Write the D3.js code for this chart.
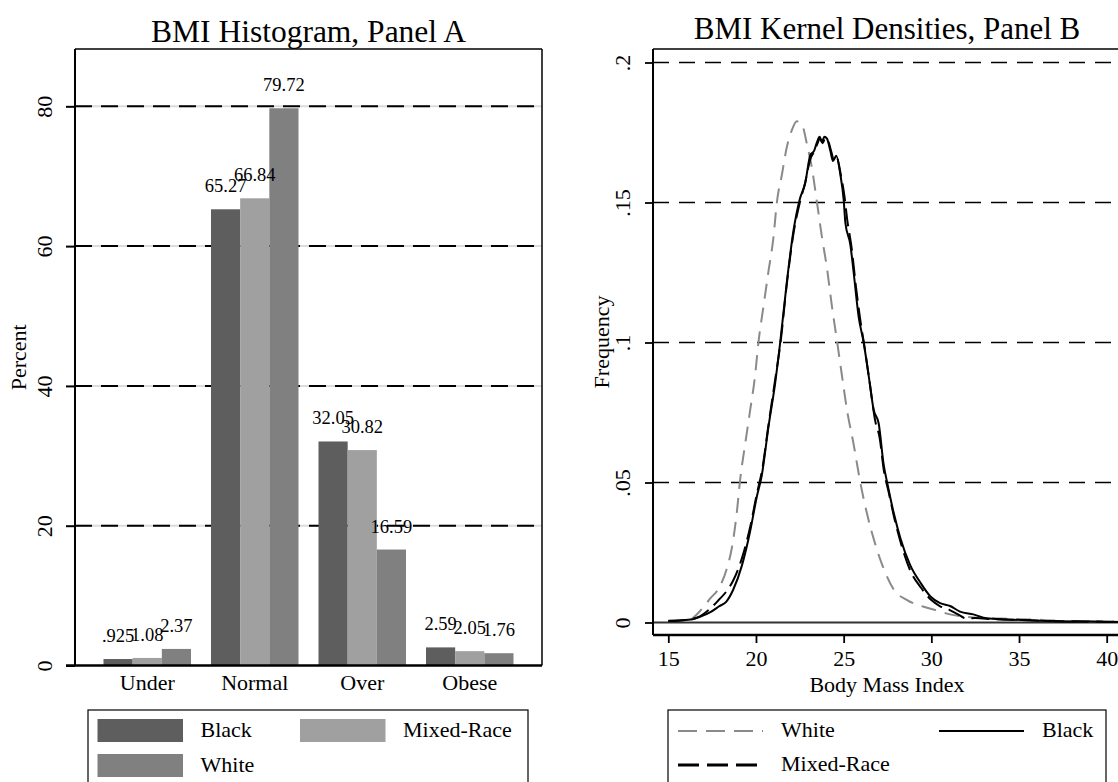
<!DOCTYPE html>
<html>
<head>
<meta charset="utf-8">
<script src="https://cdn.jsdelivr.net/npm/d3@7"></script>
<style>
  html, body { margin: 0; padding: 0; background: #fff; }
  svg { display: block; font-family: "Liberation Serif", "Times New Roman", serif; }
</style>
</head>
<body>
<svg id="chart" width="1118" height="782"></svg>
<script>
// panel A data
const categories = ['Under', 'Normal', 'Over', 'Obese'];
const groups = ['Black', 'Mixed-Race', 'White'];
const blackPct = [0.925, 65.27, 32.05, 2.59];
const mixedPct = [1.08, 66.84, 30.82, 2.05];
const whitePct = [2.37, 79.72, 16.59, 1.76];
const pctTicks = [0, 20, 40, 60, 80];

// panel B data (kernel density curves)
const whiteBmi = [16.3, 16.8, 17.38, 17.95, 18.33, 18.62, 18.9, 19.1, 19.38, 19.67, 19.95, 20.14, 20.43, 20.71, 21.0, 21.19, 21.48, 21.76, 22.05, 22.33, 22.62, 22.9, 23.19, 23.48, 23.76, 24.05, 24.33, 24.62, 24.9, 25.19, 25.57, 25.95, 26.33, 26.81, 27.29, 27.86, 28.62, 29.57, 30.33, 31, 32, 33, 34, 35, 36, 37, 38, 40, 42];
const whiteDen = [.001, .004, .0085, .013, .0191, .0265, .0389, .0512, .0636, .0759, .0883, .1, .113, .1253, .1377, .15, .16, .1698, .1759, .179, .1778, .171, .1623, .15, .1377, .1265, .113, .1006, .0883, .0759, .0636, .05, .0389, .0278, .0191, .0117, .008, .0056, .0043, .003, .002, .0016, .0014, .0012, .001, .0007, .0005, .0003, .0002];

const blackBmi = [15, 16.4, 16.8, 17.4, 17.9, 18.3, 18.7, 19.2, 19.67, 20.05, 20.33, 20.71, 21.1, 21.38, 21.76, 22.14, 22.49, 22.81, 23.1, 23.32, 23.48, 23.63, 23.76, 23.9, 24.05, 24.24, 24.39, 24.58, 24.81, 25.0, 25.1, 25.38, 25.57, 25.86, 26.14, 26.43, 26.71, 27.0, 27.29, 27.48, 27.86, 28.24, 28.8, 29.38, 29.95, 30.5, 31.07, 31.63, 32.4, 33.16, 34.3, 36.2, 38, 39, 40, 42];
const blackDen = [.0006, .0012, .002, .0037, .0058, .0074, .0117, .0204, .0327, .045, .0525, .0698, .0858, .1, .1216, .14, .151, .157, .167, .1685, .1716, .1735, .1716, .1735, .1728, .1685, .1648, .1667, .16, .151, .1426, .135, .125, .109, .1, .088, .076, .071, .056, .05, .039, .03, .0204, .0142, .0093, .0069, .0059, .0039, .0029, .0015, .0011, .0006, .0003, .0004, .0002, .0001];

const mixedBmi = [15, 16, 16.8, 17.4, 17.9, 18.3, 18.7, 19.2, 19.7, 20.05, 20.35, 20.7, 21.1, 21.4, 21.76, 22.14, 22.5, 22.8, 23.1, 23.3, 23.5, 23.65, 23.8, 23.95, 24.1, 24.3, 24.45, 24.6, 24.85, 25.05, 25.2, 25.45, 25.7, 25.95, 26.2, 26.5, 26.8, 27.05, 27.3, 27.55, 27.9, 28.3, 28.8, 29.4, 30, 30.5, 31, 31.5, 32, 32.5, 33.5, 35, 37, 39, 42];
const mixedDen = [.0005, .0009, .0022, .005, .0082, .011, .015, .023, .035, .046, .0545, .07, .087, .1, .121, .139, .15, .157, .1655, .168, .171, .1728, .1712, .173, .1722, .168, .165, .166, .1595, .152, .144, .134, .12, .108, .098, .085, .072, .066, .054, .047, .037, .0275, .0185, .0125, .008, .0058, .0046, .003, .0014, .0016, .0012, .0009, .0005, .0004, .0002];

const densTicks = [0, .05, .1, .15, .2];
const bmiTicks = [15, 20, 25, 30, 35, 40];

const barColors = ['#5e5e5e', '#a0a0a0', '#808080'];

let svg = d3.select('#chart');

function fmtLabel(v) {
    return d3.format('.4~g')(v).replace(/^0\./, '.');
}

// ---------- Panel A: bars ----------
let aLeft = 75, aRight = 542, aTop = 49, aBottom = 665.5;
let xa = d3.scaleBand().domain(categories).range([aLeft, aRight]).paddingInner(0.186).paddingOuter(0.265);
let xg = d3.scaleBand().domain(groups).range([0, xa.bandwidth()]);
let ya = d3.scaleLinear().domain([0, 88.2]).range([aBottom, aTop]);

svg.append('text')
    .attr('x', (aLeft + aRight) / 2).attr('y', 42)
    .attr('text-anchor', 'middle').attr('font-size', 31.5)
    .text('BMI Histogram, Panel A');

// grid lines: light grey under black dashes
let gridA = svg.append('g');
pctTicks.filter(d => d > 0).forEach(function(t) {
    gridA.append('line').attr('x1', aLeft).attr('x2', aRight).attr('y1', ya(t)).attr('y2', ya(t))
        .attr('stroke', '#dcdcdc').attr('stroke-width', 2);
    gridA.append('line').attr('x1', aLeft).attr('x2', aRight).attr('y1', ya(t)).attr('y2', ya(t))
        .attr('stroke', '#000').attr('stroke-width', 2).attr('stroke-dasharray', '17,9');
});

let yAxisA = d3.axisLeft(ya).tickValues(pctTicks).tickSize(9).tickFormat(d3.format('d'));
let gya = svg.append('g').attr('transform', 'translate(' + aLeft + ',0)').call(yAxisA);
gya.select('.domain').remove();
gya.selectAll('line').attr('stroke', '#000').attr('stroke-width', 2);
gya.selectAll('text')
    .attr('transform', 'rotate(-90)').attr('x', 0).attr('y', -23).attr('dy', 0)
    .attr('text-anchor', 'middle').attr('font-size', 22)
    .attr('font-family', '"Liberation Serif", "Times New Roman", serif').attr('fill', '#000');

let seriesPct = [blackPct, mixedPct, whitePct];
let bars = svg.append('g');
seriesPct.forEach(function(vals, s) {
    bars.selectAll('.bar-' + s)
        .data(vals)
        .enter()
        .append('rect')
        .attr('x', function(d, i) { return xa(categories[i]) + xg(groups[s]); })
        .attr('y', function(d) { return ya(d); })
        .attr('width', xg.bandwidth())
        .attr('height', function(d) { return ya(0) - ya(d); })
        .attr('fill', barColors[s]);
});
seriesPct.forEach(function(vals, s) {
    bars.selectAll('.lab-' + s)
        .data(vals)
        .enter()
        .append('text')
        .attr('x', function(d, i) { return xa(categories[i]) + xg(groups[s]) + xg.bandwidth() / 2; })
        .attr('y', function(d) { return ya(d) - 17; })
        .attr('text-anchor', 'middle')
        .attr('font-size', 18.5)
        .text(function(d) { return fmtLabel(d); });
});

// frame
svg.append('line').attr('x1', aLeft).attr('x2', aRight).attr('y1', aTop).attr('y2', aTop).attr('stroke', '#000').attr('stroke-width', 1.5);
svg.append('line').attr('x1', aRight).attr('x2', aRight).attr('y1', aTop).attr('y2', aBottom).attr('stroke', '#000').attr('stroke-width', 1.5);
svg.append('line').attr('x1', aLeft).attr('x2', aLeft).attr('y1', aTop).attr('y2', aBottom).attr('stroke', '#000').attr('stroke-width', 2);
svg.append('line').attr('x1', 66).attr('x2', aRight).attr('y1', aBottom).attr('y2', aBottom).attr('stroke', '#000').attr('stroke-width', 2.5);

svg.selectAll('.cat-label')
    .data(categories)
    .enter()
    .append('text')
    .attr('x', function(d) { return xa(d) + xa.bandwidth() / 2; })
    .attr('y', 690)
    .attr('text-anchor', 'middle')
    .attr('font-size', 22)
    .text(function(d) { return d; });

svg.append('text')
    .attr('transform', 'translate(26,' + ((aTop + aBottom) / 2) + ') rotate(-90)')
    .attr('text-anchor', 'middle').attr('font-size', 22)
    .text('Percent');

// legend A
svg.append('rect').attr('x', 88).attr('y', 710).attr('width', 440).attr('height', 90)
    .attr('fill', 'none').attr('stroke', '#000').attr('stroke-width', 1.2);
let legA = [
    {name: groups[0], col: barColors[0], x: 97.5, y: 719},
    {name: groups[1], col: barColors[1], x: 300, y: 719},
    {name: groups[2], col: barColors[2], x: 97.5, y: 754}
];
legA.forEach(function(d) {
    svg.append('rect').attr('x', d.x).attr('y', d.y).attr('width', 85.5).attr('height', 23).attr('fill', d.col);
    svg.append('text').attr('x', d.x + 103).attr('y', d.y + 18).attr('font-size', 22).text(d.name);
});

// ---------- Panel B: densities ----------
let bLeft = 653, bRight = 1121, bTop = 49, bBottom = 635;
let xb = d3.scaleLinear().domain([15, 40]).range([668.3, 1106.7]);
let yb = d3.scaleLinear().domain([0, .2]).range([622.5, 62.5]);

svg.append('text')
    .attr('x', (bLeft + bRight) / 2).attr('y', 39)
    .attr('text-anchor', 'middle').attr('font-size', 31)
    .text('BMI Kernel Densities, Panel B');

let gridB = svg.append('g');
densTicks.forEach(function(t) {
    if (t === 0) {
        gridB.append('line').attr('x1', bLeft).attr('x2', bRight).attr('y1', yb(t)).attr('y2', yb(t))
            .attr('stroke', '#333').attr('stroke-width', 1.8);
    } else {
        gridB.append('line').attr('x1', bLeft).attr('x2', bRight).attr('y1', yb(t)).attr('y2', yb(t))
            .attr('stroke', '#000').attr('stroke-width', 1.4).attr('stroke-dasharray', '16,10');
    }
});

let yAxisB = d3.axisLeft(yb).tickValues(densTicks).tickSize(8)
    .tickFormat(function(d) { return d === 0 ? '0' : String(d).replace(/^0/, ''); });
let gyb = svg.append('g').attr('transform', 'translate(' + bLeft + ',0)').call(yAxisB);
gyb.select('.domain').remove();
gyb.selectAll('line').attr('stroke', '#000').attr('stroke-width', 1.8);
gyb.selectAll('text')
    .attr('transform', 'rotate(-90)').attr('x', 0).attr('y', -23).attr('dy', 0)
    .attr('text-anchor', 'middle').attr('font-size', 22)
    .attr('font-family', '"Liberation Serif", "Times New Roman", serif').attr('fill', '#000');

let xAxisB = d3.axisBottom(xb).tickValues(bmiTicks).tickSize(8);
let gxb = svg.append('g').attr('transform', 'translate(0,' + bBottom + ')').call(xAxisB);
gxb.select('.domain').remove();
gxb.selectAll('line').attr('stroke', '#000').attr('stroke-width', 1.8);
gxb.selectAll('text')
    .attr('y', 31).attr('dy', 0).attr('font-size', 22)
    .attr('font-family', '"Liberation Serif", "Times New Roman", serif').attr('fill', '#000');

let line = d3.line()
    .x(function(d) { return xb(d[0]); })
    .y(function(d) { return yb(d[1]); })
    .curve(d3.curveMonotoneX);

let curves = [
    {bmi: whiteBmi, den: whiteDen, stroke: '#8a8a8a', dash: '15,9', w: 2},
    {bmi: mixedBmi, den: mixedDen, stroke: '#000', dash: '18,7', w: 2},
    {bmi: blackBmi, den: blackDen, stroke: '#000', dash: null, w: 2}
];
curves.forEach(function(c) {
    let pts = c.bmi.map(function(b, i) { return [b, c.den[i]]; });
    svg.append('path')
        .attr('d', line(pts))
        .attr('fill', 'none')
        .attr('stroke', c.stroke)
        .attr('stroke-width', c.w)
        .attr('stroke-dasharray', c.dash);
});

// frame B
svg.append('line').attr('x1', bLeft).attr('x2', bRight).attr('y1', bTop).attr('y2', bTop).attr('stroke', '#000').attr('stroke-width', 1.5);
svg.append('line').attr('x1', bLeft).attr('x2', bLeft).attr('y1', bTop).attr('y2', bBottom).attr('stroke', '#000').attr('stroke-width', 2);
svg.append('line').attr('x1', bLeft).attr('x2', bRight).attr('y1', bBottom).attr('y2', bBottom).attr('stroke', '#000').attr('stroke-width', 2.5);

svg.append('text')
    .attr('x', (bLeft + bRight) / 2).attr('y', 692)
    .attr('text-anchor', 'middle').attr('font-size', 22)
    .text('Body Mass Index');

svg.append('text')
    .attr('transform', 'translate(609,' + ((bTop + bBottom) / 2) + ') rotate(-90)')
    .attr('text-anchor', 'middle').attr('font-size', 22)
    .text('Frequency');

// legend B
svg.append('rect').attr('x', 668).attr('y', 710).attr('width', 438).attr('height', 90)
    .attr('fill', 'none').attr('stroke', '#000').attr('stroke-width', 1.2);
let legB = [
    {name: 'White', stroke: '#8a8a8a', dash: '19,9', w: 2, x: 678, y: 731},
    {name: 'Black', stroke: '#000', dash: null, w: 2.2, x: 939, y: 731},
    {name: 'Mixed-Race', stroke: '#000', dash: '21,8', w: 3, x: 678, y: 765}
];
legB.forEach(function(d) {
    svg.append('line').attr('x1', d.x).attr('x2', d.x + 85).attr('y1', d.y).attr('y2', d.y)
        .attr('stroke', d.stroke).attr('stroke-width', d.w).attr('stroke-dasharray', d.dash);
    svg.append('text').attr('x', d.x + 103).attr('y', d.y + 6).attr('font-size', 22).text(d.name);
});
</script>
</body>
</html>
